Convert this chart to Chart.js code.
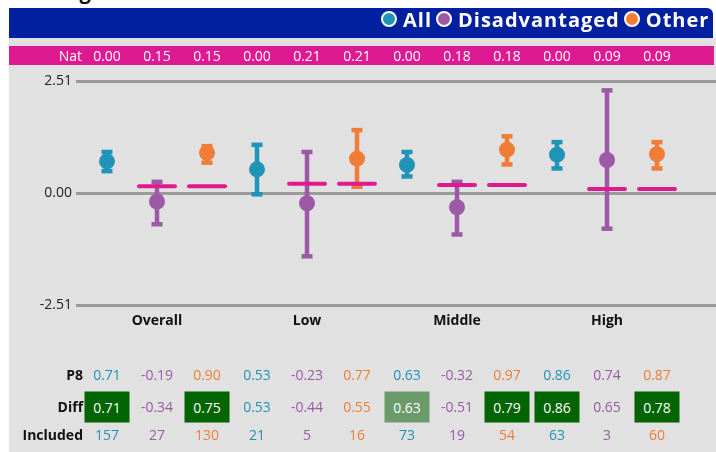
<!DOCTYPE html>
<html><head><meta charset="utf-8">
<script src="https://cdn.jsdelivr.net/npm/chart.js@4.4.1/dist/chart.umd.min.js"></script>
<style>
html,body{margin:0;padding:0;width:716px;height:452px;overflow:hidden;background:#fff;font-family:'Open Sans',sans-serif;}
#panel{position:absolute;left:9px;top:38px;width:707px;height:414px;background:#e1e1e1;}
#head{position:absolute;left:9px;top:8px;width:704px;height:30px;background:#00209f;border-top-right-radius:6px;}
#natband{position:absolute;left:9px;top:46px;width:705px;height:19px;background:#de1a93;}
#c{position:absolute;left:0;top:0;z-index:2;}
#ov{position:absolute;left:0;top:0;width:716px;height:452px;z-index:3;}
.t{position:absolute;white-space:nowrap;transform:translate(-50%,-50%);line-height:1;font-size:14px;}
.r{position:absolute;white-space:nowrap;transform:translateY(-50%);line-height:1;font-size:14px;text-align:right;}
.box{position:absolute;transform:translate(-50%,-50%);width:45px;height:31px;display:flex;align-items:center;justify-content:center;color:#fff;font-size:14px;line-height:1;}
#legend{position:absolute;left:377px;top:6px;height:26px;display:flex;align-items:center;color:#fff;font-weight:700;font-size:20px;letter-spacing:1px;z-index:4;}
#legend .m{display:inline-block;width:12px;height:12px;border-radius:50%;border:2px solid #fff;margin-right:6px;margin-left:4px;}
#cov{position:absolute;left:10px;top:-18px;font-weight:700;font-size:20px;line-height:20px;color:#111;white-space:nowrap;}
#cov span{display:inline-block;}
</style></head>
<body>
<div id="cov"><span>Coverage</span><span style="color:#2093b9;margin-left:8px">●</span><span style="margin-left:4px">89%</span><span style="color:#9b59a6;margin-left:6px">●</span><span style="margin-left:4px">90%</span><span style="color:#ef7d36;margin-left:6px">●</span><span style="margin-left:4px">87%</span></div>
<div id="head"></div>
<div id="panel"></div>
<div id="natband"></div>
<div id="legend"></div>
<canvas id="c" width="716" height="452"></canvas>
<div id="ov"></div>
<script>
// ---- data ----
const categories = ['Overall', 'Low', 'Middle', 'High'];
const seriesNames = ['All', 'Disadvantaged', 'Other'];
const seriesColors = ['#2093b9', '#9b59a6', '#ef7d36'];
const yTicks = [-2.51, 0.00, 2.51];

const p8All = [0.71, 0.53, 0.63, 0.86];
const p8Dis = [-0.19, -0.23, -0.32, 0.74];
const p8Oth = [0.90, 0.77, 0.97, 0.87];

const lowAll = [0.49, -0.03, 0.37, 0.55];
const highAll = [0.92, 1.08, 0.92, 1.14];
const lowDis = [-0.70, -1.42, -0.93, -0.80];
const highDis = [0.25, 0.92, 0.25, 2.30];
const lowOth = [0.68, 0.14, 0.64, 0.55];
const highOth = [1.05, 1.41, 1.27, 1.14];

const natAll = [0.00, 0.00, 0.00, 0.00];
const natDis = [0.15, 0.21, 0.18, 0.09];
const natOth = [0.15, 0.21, 0.18, 0.09];

const diffAll = [0.71, 0.53, 0.63, 0.86];
const diffDis = [-0.34, -0.44, -0.51, 0.65];
const diffOth = [0.75, 0.55, 0.79, 0.78];
// significance shading of the Diff cell: 2 = strong, 1 = weak, 0 = none
const sigAll = [2, 0, 1, 2];
const sigDis = [0, 0, 0, 0];
const sigOth = [2, 0, 2, 2];

const inclAll = [157, 21, 73, 63];
const inclDis = [27, 5, 19, 3];
const inclOth = [130, 16, 54, 60];

const series = [
  {p8: p8All, low: lowAll, high: highAll, nat: natAll, diff: diffAll, sig: sigAll, incl: inclAll, drawNat: false},
  {p8: p8Dis, low: lowDis, high: highDis, nat: natDis, diff: diffDis, sig: sigDis, incl: inclDis, drawNat: true},
  {p8: p8Oth, low: lowOth, high: highOth, nat: natOth, diff: diffOth, sig: sigOth, incl: inclOth, drawNat: true}
];
const nS = seriesNames.length;
const slot = (ci, si) => ci * nS + si;

// legend
const lg = document.getElementById('legend');
seriesNames.forEach((n, i) => {
  const m = document.createElement('span'); m.className = 'm'; m.style.background = seriesColors[i];
  const l = document.createElement('span'); l.textContent = n;
  lg.appendChild(m); lg.appendChild(l);
});

const errPlugin = {
  id: 'errbars',
  beforeDatasetsDraw(chart) {
    const {ctx, scales: {x, y}} = chart;
    ctx.save();
    series.forEach((s, si) => {
      const col = seriesColors[si];
      s.low.forEach((lo, ci) => {
        const px = x.getPixelForValue(slot(ci, si));
        const pl = y.getPixelForValue(lo), ph = y.getPixelForValue(s.high[ci]);
        ctx.strokeStyle = col; ctx.lineWidth = 4.5; ctx.lineCap = 'butt';
        ctx.beginPath(); ctx.moveTo(px, pl); ctx.lineTo(px, ph); ctx.stroke();
        ctx.fillStyle = col;
        ctx.fillRect(px - 5.5, ph - 2.25, 11, 4.5);
        ctx.fillRect(px - 5.5, pl - 2.25, 11, 4.5);
      });
    });
    series.forEach((s, si) => {
      if (!s.drawNat) return;
      s.nat.forEach((v, ci) => {
        const px = x.getPixelForValue(slot(ci, si));
        const py = y.getPixelForValue(v);
        ctx.strokeStyle = '#e0198f'; ctx.lineWidth = 4; ctx.lineCap = 'round';
        ctx.beginPath(); ctx.moveTo(px - 18, py); ctx.lineTo(px + 18, py); ctx.stroke();
      });
    });
    ctx.restore();
  }
};

const datasets = series.map((s, si) => ({
  type: 'scatter',
  label: seriesNames[si],
  data: s.p8.map((v, ci) => ({x: slot(ci, si), y: v})),
  backgroundColor: seriesColors[si],
  borderWidth: 0,
  pointRadius: 8,
  pointHoverRadius: 8
}));

const chart = new Chart(document.getElementById('c'), {
  type: 'scatter',
  data: {datasets},
  plugins: [errPlugin],
  options: {
    responsive: false,
    animation: false,
    events: [],
    layout: {autoPadding: false, padding: {left: 9, top: 81, right: 0, bottom: 0}},
    plugins: {legend: {display: false}, tooltip: {enabled: false}},
    scales: {
      x: {
        type: 'linear', min: -0.62, max: 12.18,
        grid: {display: false, drawTicks: false},
        border: {display: false},
        afterBuildTicks: (sc) => { sc.ticks = categories.map((c, i) => ({value: slot(i, 1)})); },
        afterFit: (sc) => { sc.height = 147; sc.paddingLeft = 0; sc.paddingRight = 0; },
        ticks: {
          autoSkip: false, maxRotation: 0, padding: 8, color: '#111',
          font: {family: 'Open Sans', size: 14, weight: 'bold'},
          callback: (v, i) => categories[i]
        }
      },
      y: {
        type: 'linear', min: -2.51, max: 2.51,
        grid: {color: '#9a9a9a', lineWidth: 3, drawTicks: false},
        border: {display: false},
        afterBuildTicks: (sc) => { sc.ticks = yTicks.map(v => ({value: v})); },
        afterFit: (sc) => { sc.width = 67; sc.paddingTop = 0; sc.paddingBottom = 0; },
        ticks: {
          padding: 4, color: '#222',
          font: {family: 'Open Sans', size: 14},
          callback: (v) => Number(v).toFixed(2)
        }
      }
    }
  }
});

// ---- text rows placed from the chart's x scale ----
const ov = document.getElementById('ov');
const xs = chart.scales.x;
function addText(txt, x, y, color, cls) {
  const d = document.createElement('div'); d.className = cls || 't';
  d.textContent = txt; d.style.left = x + 'px'; d.style.top = y + 'px'; d.style.color = color;
  ov.appendChild(d); return d;
}
function addLabel(txt, rightX, y, color, bold) {
  const d = document.createElement('div'); d.className = 'r';
  d.textContent = txt; d.style.right = (716 - rightX) + 'px'; d.style.top = y + 'px'; d.style.color = color;
  if (bold) d.style.fontWeight = '700';
  ov.appendChild(d);
}
const natY = 56, p8Y = 375, diffY = 407, inclY = 435;
addLabel('Nat', 82, natY, '#fff', false);
addLabel('P8', 83, p8Y, '#111', true);
addLabel('Diff', 83, diffY, '#111', true);
addLabel('Included', 83, inclY, '#111', true);
series.forEach((s, si) => {
  categories.forEach((c, ci) => {
    const px = xs.getPixelForValue(slot(ci, si));
    addText(s.nat[ci].toFixed(2), px, natY, '#fff');
    addText(s.p8[ci].toFixed(2), px, p8Y, seriesColors[si]);
    if (s.sig[ci] > 0) {
      const b = addText(s.diff[ci].toFixed(2), px, diffY, '#fff', 'box');
      b.style.background = s.sig[ci] === 2 ? '#006400' : '#6b9b6b';
    } else {
      addText(s.diff[ci].toFixed(2), px, diffY, seriesColors[si]);
    }
    addText(String(s.incl[ci]), px, inclY, seriesColors[si]);
  });
});
</script>
</body></html>
